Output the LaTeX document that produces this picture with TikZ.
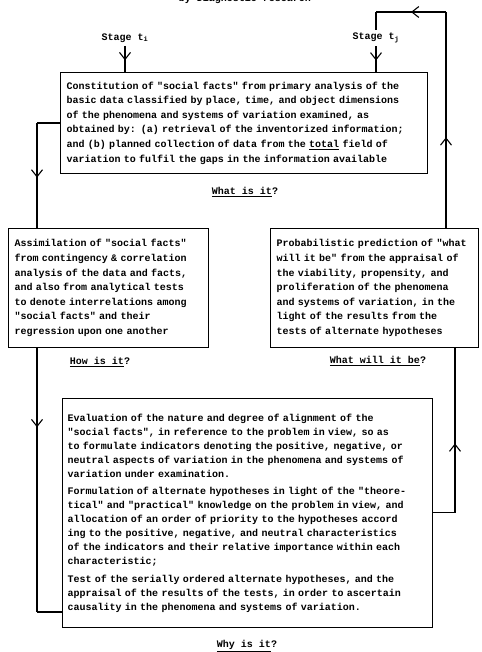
\documentclass[tikz,border=0pt]{standalone}
\usepackage{fontspec}
\setmonofont{Liberation Mono}
\usetikzlibrary{arrows.meta, decorations.markings}

\begin{document}
\begin{tikzpicture}[
    x=1pt, y=-1pt,
    every node/.style={font=\ttfamily\bfseries\fontsize{10}{14.6}\selectfont},
    box/.style={rectangle, draw, line width=1.1pt, anchor=north west, align=left, inner xsep=6pt, inner ysep=0pt},
    line/.style={line width=1.1pt},
    arrowat/.style={postaction={decorate}, decoration={markings, mark=at position #1 with {\arrow{Straight Barb[length=7pt, width=11pt, line width=1.1pt]}}}},
    question/.style={inner sep=1pt},
]
    \useasboundingbox (0,0) rectangle (481,652);

    % --- heading and stages ---
    \node (title) at (245,-1) {by Diagnostic research};
    \node (stagei) at (125,38) {Stage t\textsubscript{i}};
    \node (stagej) at (376,38) {Stage t\textsubscript{j}};

    % --- boxes ---
    \node[box, text width=355pt, minimum height=101pt] (what) at (60,72) {Constitution of "social facts" from primary analysis of the\\
basic data classified by place, time, and object dimensions\\
of the phenomena and systems of variation examined, as\\
obtained by: (a) retrieval of the inventorized information;\\
and (b) planned collection of data from the \underline{total} field of\\
variation to fulfil the gaps in the information available};
    \node[box, text width=188pt, minimum height=119pt] (how) at (8,228) {Assimilation of "social facts"\\
from contingency \& correlation\\
analysis of the data and facts,\\
and also from analytical tests\\
to denote interrelations among\\
"social facts" and their\\
regression upon one another};
    \node[box, text width=196pt, minimum height=119pt] (willbe) at (270,228) {Probabilistic prediction of "what\\
will it be" from the appraisal of\\
the viability, propensity, and\\
proliferation of the phenomena\\
and systems of variation, in the\\
light of the results from the\\
tests of alternate hypotheses};
    \node[box, text width=360pt, inner xsep=5pt, minimum height=229pt, font=\ttfamily\bfseries\fontsize{10}{14}\selectfont] (why) at (62,398) {Evaluation of the nature and degree of alignment of the\\
"social facts", in reference to the problem in view, so as\\
to formulate indicators denoting the positive, negative, or\\
neutral aspects of variation in the phenomena and systems of\\
variation under examination.\\[3.5pt]
Formulation of alternate hypotheses in light of the "theore-\\
tical" and "practical" knowledge on the problem in view, and\\
allocation of an order of priority to the hypotheses accord\\
ing to the positive, negative, and neutral characteristics\\
of the indicators and their relative importance within each\\
characteristic;\\[3.5pt]
Test of the serially ordered alternate hypotheses, and the\\
appraisal of the results of the tests, in order to ascertain\\
causality in the phenomena and systems of variation.};

    % --- questions ---
    \node[question] (qwhat) at (245,192) {\underline{What is it}?};
    \node[question] (qhow) at (100,362) {\underline{How is it}?};
    \node[question] (qwillbe) at (378,361) {\underline{What will it be}?};
    \node[question] (qwhy) at (247,646) {\underline{Why is it}?};

    % --- turning points ---
    \coordinate (lcorner) at (37,123);
    \coordinate (lend) at (37,612);
    \coordinate (rtop) at (446,12);
    \coordinate (jtop) at (376,12);
    \coordinate (rbot) at (455,512.5);

    % --- connectors ---
    \draw[line, arrowat=0.55] (stagei.south) -- (stagei.south |- what.north);
    \draw[line, arrowat=0.55] (stagej.south) -- (stagej.south |- what.north);
    \draw[line] (what.west |- lcorner) -- (lcorner);
    \draw[line, arrowat=0.52] (lcorner) -- (how.north -| lcorner);
    \draw[line, arrowat=0.3] (how.south -| lcorner) -- (lend);
    \draw[line] (lend) -- (why.west |- lend);
    \draw[line] (why.east |- rbot) -- (rbot);
    \draw[line, arrowat=0.42] (rbot) -- (willbe.south -| rbot);
    \draw[line, arrowat=0.42] (willbe.north -| rtop) -- (rtop);
    \draw[line, arrowat=0.5] (rtop) -- (jtop);
    \draw[line] (jtop) -- (stagej.north);

\end{tikzpicture}
\end{document}
